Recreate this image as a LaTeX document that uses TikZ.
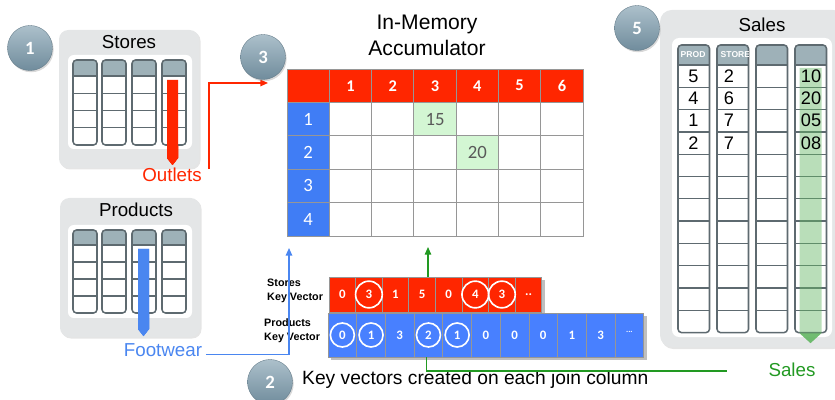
\documentclass[tikz,border=0pt]{standalone}
\usepackage{fontspec}
\setmainfont{Liberation Sans}
\newfontfamily\numfont{Carlito}
\usetikzlibrary{arrows.meta,shadows,calc}
\definecolor{accred}{RGB}{255,38,0}
\definecolor{accblue}{RGB}{64,125,245}
\definecolor{kvblue}{RGB}{72,128,255}
\definecolor{accgreen}{RGB}{211,246,211}
\definecolor{gridgray}{RGB}{150,150,150}
\definecolor{panelbg}{RGB}{228,230,231}
\definecolor{colline}{RGB}{94,106,112}
\definecolor{colhead}{RGB}{158,177,184}
\definecolor{linkgreen}{RGB}{34,153,34}
\definecolor{footblue}{RGB}{74,134,240}
\definecolor{badgetop}{RGB}{172,192,203}
\definecolor{badgebot}{RGB}{112,140,156}

\tikzset{
  badge/.style={circle, minimum size=1.35cm, top color=badgetop, bottom color=badgebot, draw=badgebot!85!black, line width=0.3pt, text=white, font=\numfont\fontsize{16}{16}\selectfont\bfseries, drop shadow={shadow xshift=1pt, shadow yshift=-1.5pt, opacity=0.3}},
  paneltitle/.style={font=\fontsize{16}{18}\selectfont, inner sep=1pt},
  gcell/.style={draw=gridgray, line width=0.8pt, minimum width=1.269cm, minimum height=1.002cm, inner sep=0pt, font=\numfont\fontsize{16}{16}\selectfont},
  gheadcell/.style={gcell, fill=accred, text=white, font=\numfont\fontsize{14}{14}\selectfont\bfseries},
  growcell/.style={gcell, fill=accblue, text=white},
  gbodycell/.style={gcell, fill=white, text=black!65},
  skcell/.style={draw=gridgray, line width=0.6pt, fill=accred, minimum width=0.798cm, minimum height=1.05cm, inner sep=0pt, text=white, font=\numfont\fontsize{11}{11}\selectfont\bfseries},
  pkcell/.style={skcell, fill=kvblue, minimum width=0.861cm, minimum height=1.32cm},
  kvring/.style={draw=white, line width=1.4pt},
  kvlabel/.style={align=left, font=\fontsize{9.2}{12}\selectfont\bfseries, inner sep=0pt},
  salesval/.style={font=\fontsize{15.5}{15.5}\selectfont, inner sep=0pt},
  colhead text/.style={anchor=west, inner sep=0pt, text=white, font=\fontsize{7.3}{7.3}\selectfont\bfseries},
  linkred/.style={draw=accred, line width=1.2pt, -{Triangle[length=6.5pt,width=5.5pt]}},
  linkblue/.style={draw=footblue, line width=1.2pt, -{Triangle[length=6.5pt,width=5.5pt]}},
  linkgreen/.style={draw=linkgreen, line width=1pt}
}

% one database column: x, top, width, header height, row height, rows
\newcommand{\dbcol}[6]{%
  \begin{scope}
    \clip[rounded corners=3pt] (#1,#2) rectangle ({#1+#3},{#2+#4+#5*#6});
    \fill[white] (#1,#2) rectangle ({#1+#3},{#2+#4+#5*#6});
    \fill[colhead] (#1,#2) rectangle ({#1+#3},{#2+#4});
  \end{scope}
  \foreach \k in {1,...,#6}
    \draw[colline, line width=1.1pt] (#1,{#2+#4+#5*(\k-1)}) -- ({#1+#3},{#2+#4+#5*(\k-1)});
  \draw[colline, line width=1.3pt, rounded corners=3pt] (#1,#2) rectangle ({#1+#3},{#2+#4+#5*#6});
}

\begin{document}
\begin{tikzpicture}[x=0.03cm, y=-0.03cm]
  \useasboundingbox (0,0) rectangle (835,400);

  % Stores table
  \fill[black!10, rounded corners=8pt] (60.5,31.5) rectangle (200.5,169.5);
  \fill[panelbg, rounded corners=8pt] (59,30) rectangle (199,168);
  \fill[white, rounded corners=5pt] (68,55) rectangle (192,149);
  \foreach \x in {73,102,132,162} \dbcol{\x}{60}{24}{16}{17.25}{4}
  \fill[accred] (167,80) -- (178,80) -- (178,158) -- (172.5,165) -- (167,158) -- cycle;
  \node[paneltitle] (stores) at (129,42) {Stores};
  \node[paneltitle, text=accred] (outlets) at (172,175) {Outlets};

  % Products table
  \fill[black!10, rounded corners=8pt] (61.5,199.5) rectangle (201.5,338.5);
  \fill[panelbg, rounded corners=8pt] (60,198) rectangle (200,337);
  \fill[white, rounded corners=5pt] (68,225) rectangle (192,318);
  \foreach \x in {73,102,132,162} \dbcol{\x}{230}{24}{15}{17}{4}
  \fill[footblue] (138,249) -- (149,249) -- (149,329) -- (143.5,336) -- (138,329) -- cycle;
  \node[paneltitle] (products) at (136,210) {Products};
  \node[paneltitle, text=footblue] (footwear) at (163,350) {Footwear};

  % Sales table
  \fill[black!10, rounded corners=10pt] (661.5,11.5) rectangle (845,349);
  \fill[panelbg, rounded corners=10pt] (660,10) rectangle (845,347);
  \fill[white, rounded corners=6pt] (672,38) rectangle (832,337);
  \foreach \x in {678,717,756,795} \dbcol{\x}{45}{31.5}{20}{22.3}{12}
  \fill[linkgreen!70, opacity=0.45] (799.5,68) -- (821.5,68) -- (821.5,333) -- (810.5,343) -- (799.5,333) -- cycle;
  \node[paneltitle] (sales) at (762,25) {Sales};
  \node[colhead text] (prodhead) at (680.5,55) {PROD};
  \begin{scope}
    \clip (717,45) rectangle (748.5,65);
    \node[colhead text] (storehead) at (720.5,55) {STORE};
  \end{scope}
  \foreach \v [count=\i] in {5,4,1,2}
    \node[salesval] (sp-\i) at (693.5,{65+22.3*(\i-0.5)}) {\v};
  \foreach \v [count=\i] in {2,6,7,7}
    \node[salesval] (ss-\i) at (729,{65+22.3*(\i-0.5)}) {\v};
  \foreach \v [count=\i] in {10,20,05,08}
    \node[salesval] (sa-\i) at (811,{65+22.3*(\i-0.5)}) {\v};
  \node[paneltitle, text=linkgreen] (saleslabel) at (792,370) {Sales};

  % accumulator grid
  \node[align=center, font=\fontsize{18}{22}\selectfont] (acctitle) at (427,35) {In-Memory\\Accumulator};
  \foreach \c in {0,...,6}
    \node[gheadcell] (g-0-\c) at ({287+42.3*(\c+0.5)},{69+33.4*0.5}) {\ifnum\c>0 \c\fi};
  \foreach \r in {1,...,4}
    \node[growcell] (g-\r-0) at ({287+42.3*0.5},{69+33.4*(\r+0.5)}) {\r};
  \foreach \r in {1,...,4}
    \foreach \c in {1,...,6}
      \node[gbodycell] (g-\r-\c) at ({287+42.3*(\c+0.5)},{69+33.4*(\r+0.5)}) {};
  \node[gbodycell, fill=accgreen] (hit1) at (g-1-3) {15};
  \node[gbodycell, fill=accgreen] (hit2) at (g-2-4) {20};

  % key vectors
  \fill[black!25] (332,280) rectangle (545,315);
  \fill[black!25] (331,316) rectangle (647,360);
  \foreach \v [count=\i] in {0,3,1,5,0,4,3}
    \node[skcell] (sk-\i) at ({329+26.6*(\i-0.5)},294.5) {\v};
  \node[skcell] (sk-8) at ({329+26.6*7.5},294.5) {..};
  \foreach \v [count=\i] in {0,1,3,2,1,0,0,0,1,3}
    \node[pkcell] (pk-\i) at ({328+28.7*(\i-0.5)},335) {\v};
  \node[pkcell] (pk-11) at ({328+28.7*10.5},335) {\raisebox{0.9ex}{\fontsize{7}{7}\selectfont...}};
  \foreach \i in {2,6,7} \draw[kvring] (sk-\i.center) circle (0.4cm);
  \foreach \i in {1,2,4,5} \draw[kvring] (pk-\i.center) circle (0.36cm);
  \node[kvlabel, anchor=west] (sklabel) at (267,291) {Stores\\Key Vector};
  \node[kvlabel, anchor=west] (pklabel) at (264,331) {Products\\Key Vector};
  \node[anchor=west, inner sep=0pt, font=\fontsize{16.4}{18}\selectfont] (kvnote) at (302,380) {Key vectors created on each join column};

  % connectors
  \coordinate (accin) at (268,83);
  \coordinate (accfoot) at (289,248);
  \coordinate (accup) at (428,247);
  \coordinate (salesend) at (727,371);
  \draw[linkred] ([xshift=0.18cm,yshift=-2pt]outlets.north east) |- (accin);
  \draw[linkblue] ([xshift=2pt,yshift=1.5pt]footwear.base east) -| (accfoot);
  \draw[linkgreen, -{Triangle[length=6.5pt,width=5.5pt]}] (sk-4.north -| accup) -- (accup);
  \draw[linkgreen] ([xshift=-2pt]pk-4.south) |- (salesend);

  % step badges
  \node[badge] (b1) at (30,48) {1};
  \node[badge] (b3) at (263,57) {3};
  \node[badge] (b2) at (270,382) {2};
  \node[badge] (b5) at (637,28) {5};
\end{tikzpicture}
\end{document}
